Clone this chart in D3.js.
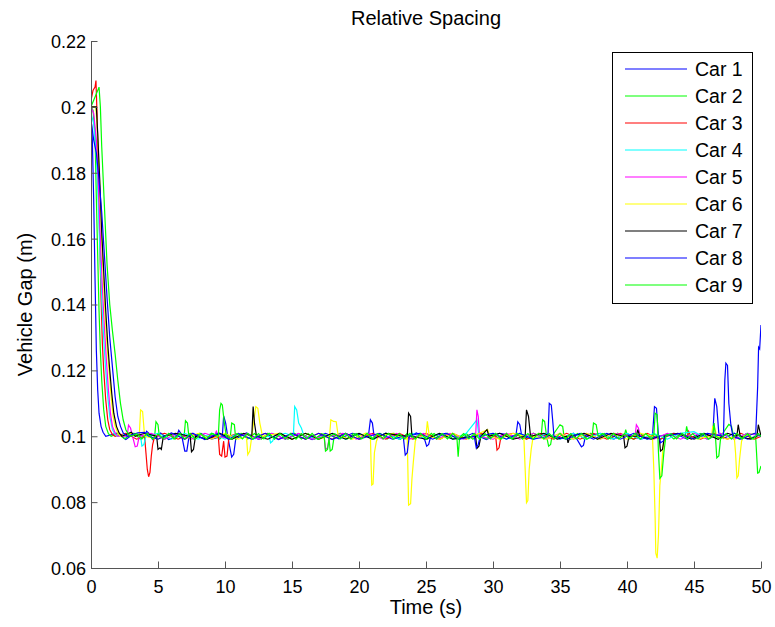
<!DOCTYPE html>
<html>
<head>
<meta charset="utf-8">
<script src="https://cdn.jsdelivr.net/npm/d3@7/dist/d3.min.js"></script>
<style>
  html, body { margin: 0; padding: 0; background: #fff; }
  svg { display: block; }
  text { font-family: "Liberation Sans", Arial, Helvetica, sans-serif; fill: #000; }
</style>
</head>
<body>
<svg id="chart" width="775" height="627"></svg>
<script>
// ---------- data ----------
const carNames = ["Car 1","Car 2","Car 3","Car 4","Car 5","Car 6","Car 7","Car 8","Car 9"];
const xTicks = [0,5,10,15,20,25,30,35,40,45,50];
const yTicks = [0.06,0.08,0.1,0.12,0.14,0.16,0.18,0.2,0.22];
const yTickLabels = ["0.06","0.08","0.1","0.12","0.14","0.16","0.18","0.2","0.22"];

const car1 = [[0,0.197],[0.1,0.19],[0.2,0.172],[0.3,0.148],[0.4,0.126],[0.5,0.114],[0.6,0.107],[0.75,0.103],[0.9,0.1012],[1.1,0.1],
[2.0,0.101],[2.6,0.099],[3.2,0.1008],[4.0,0.1],[4.15,0.1015],[4.35,0.1008],[4.6,0.099],[5.2,0.101],[5.8,0.099],[6.4,0.1],[6.55,0.1018],[6.75,0.1006],[7.0,0.0955],[7.15,0.0955],[7.3,0.0995],[8.2,0.1009],[9.0,0.0991],[9.8,0.1],[9.9,0.1062],[10.05,0.104],[10.2,0.1],[10.5,0.0937],[10.65,0.0945],[10.8,0.0992],[11.6,0.101],[12.5,0.0991],[13.5,0.1009],[14.5,0.0991],[15.5,0.1008],[16.5,0.099],[17.5,0.1009],[18.5,0.0992],[19.5,0.1009],[20.7,0.1],[20.85,0.105],[21.0,0.104],[21.15,0.0992],[22,0.1009],[23,0.0991],[24.3,0.101],[24.9,0.099],[25.05,0.097],[25.2,0.0975],[25.35,0.1],[26.5,0.1009],[27.5,0.0991],[28.5,0.1009],[29.5,0.099],[30.5,0.1009],[31.7,0.1],[31.85,0.1044],[32.0,0.1035],[32.15,0.1],[33,0.0991],[34,0.1008],[35,0.0991],[36,0.1009],[36.6,0.0968],[36.75,0.0972],[36.9,0.1],[38,0.1009],[39,0.0991],[40,0.1008],[41,0.0991],[41.9,0.1],[42.05,0.109],[42.2,0.1085],[42.35,0.1],[43.5,0.1009],[44.5,0.0991],[45.5,0.1008],[46.4,0.1],[46.55,0.1115],[46.7,0.109],[46.85,0.101],[47.2,0.0993],[48.0,0.1009],[49.0,0.0991],[49.6,0.1],[49.75,0.115],[49.82,0.127],[49.9,0.1265],[50,0.1338]];

const car2 = [[0,0.2],[0.15,0.199],[0.3,0.192],[0.4,0.172],[0.5,0.155],[0.6,0.138],[0.7,0.126],[0.8,0.117],[0.95,0.108],[1.1,0.103],[1.3,0.1008],[1.5,0.1],
[2.0,0.1008],[2.5,0.0992],[3.2,0.1009],[3.7,0.0991],[4.3,0.1008],[4.75,0.1],[4.85,0.1044],[5.0,0.1035],[5.1,0.1],[5.5,0.0991],[5.9,0.1008],[6.3,0.0992],[6.7,0.1009],[6.95,0.1],[7.05,0.1047],[7.2,0.104],[7.3,0.1],[7.7,0.0991],[8.1,0.1009],[8.6,0.0992],[9.1,0.1008],[9.6,0.0991],[10.0,0.1007],[10.4,0.1],[10.5,0.104],[10.7,0.1035],[10.8,0.0991],[11.2,0.1009],[11.7,0.0992],[12.2,0.1008],[12.7,0.0991],[13.2,0.1009],[13.7,0.0992],[14.2,0.1008],[14.7,0.0991],[15.2,0.1009],[15.7,0.0992],[16.2,0.1008],[16.7,0.0991],[17.2,0.1008],[17.75,0.1],[17.85,0.0955],[18.0,0.096],[18.15,0.1],[18.6,0.1009],[19.1,0.0991],[19.6,0.1008],[20.1,0.0992],[20.6,0.1009],[21.1,0.0991],[21.6,0.1008],[22.1,0.0992],[22.6,0.1009],[23.1,0.0991],[23.6,0.1008],[24.1,0.0992],[24.6,0.1009],[25.1,0.0991],[25.6,0.1008],[26.1,0.0992],[26.6,0.1009],[27.0,0.0992],[27.3,0.1],[27.4,0.0938],[27.5,0.0993],[28.0,0.1008],[28.5,0.0991],[29.0,0.1009],[29.5,0.0992],[30.0,0.1008],[30.5,0.0991],[31.0,0.1009],[31.5,0.0992],[32.0,0.1008],[32.5,0.0991],[33.0,0.1009],[33.6,0.1],[33.7,0.105],[33.85,0.1045],[34.0,0.1],[34.15,0.097],[34.3,0.0975],[34.4,0.1],[35.0,0.1035],[35.2,0.103],[35.3,0.1],[35.8,0.0991],[36.3,0.1008],[36.8,0.0992],[37.3,0.1009],[37.8,0.0991],[38.3,0.1008],[38.8,0.0992],[39.3,0.1009],[39.8,0.1],[39.9,0.102],[40.05,0.1],[40.5,0.0991],[41.0,0.1008],[41.5,0.0992],[42.0,0.1009],[42.5,0.0991],[43.0,0.1008],[43.5,0.0992],[44.0,0.1008],[44.35,0.1],[44.45,0.103],[44.6,0.1],[45.0,0.0991],[45.5,0.1008],[46.0,0.0992],[46.6,0.1],[46.7,0.0934],[46.85,0.094],[47.0,0.1],[47.6,0.1036],[47.8,0.103],[47.95,0.1],[48.4,0.0991],[48.9,0.1008],[49.3,0.0992],[49.6,0.1],[49.75,0.0888],[49.85,0.089],[50,0.091]];

const car3 = [[0,0.202],[0.15,0.205],[0.3,0.206],[0.37,0.208],[0.45,0.198],[0.55,0.18],[0.65,0.16],[0.75,0.142],[0.85,0.128],[0.95,0.12],[1.1,0.111],[1.25,0.105],[1.4,0.102],[1.6,0.1005],[1.8,0.1],
[2.6,0.1009],[3.4,0.0991],[4.0,0.1],[4.1,0.095],[4.2,0.09],[4.3,0.0877],[4.4,0.089],[4.5,0.094],[4.6,0.0975],[4.75,0.1],[5.5,0.1009],[6.5,0.0991],[7.5,0.1009],[8.5,0.0991],[9.5,0.1],[9.6,0.0945],[9.75,0.094],[9.9,0.0985],[10.0,0.0937],[10.15,0.094],[10.3,0.1],[11,0.1009],[12,0.0991],[13,0.1009],[14,0.0991],[15,0.1009],[16,0.0991],[17,0.1009],[18,0.0991],[19,0.1009],[20,0.0991],[21,0.1009],[22,0.0991],[23,0.1009],[24,0.0991],[25,0.1009],[26,0.0991],[27,0.1009],[28,0.0991],[29,0.1009],[30.2,0.1],[30.3,0.0958],[30.45,0.0965],[30.6,0.1],[31.5,0.1009],[32.5,0.0991],[33.5,0.1009],[34.5,0.0991],[35.5,0.1009],[36.5,0.0991],[37.5,0.1009],[38.5,0.0991],[39.5,0.1009],[40.5,0.0991],[41.5,0.1009],[42.5,0.0991],[43.5,0.1009],[44.5,0.1],[44.6,0.1015],[44.75,0.1],[45.5,0.0991],[46.5,0.1009],[47.5,0.0991],[48.5,0.1009],[49.5,0.0991],[50,0.1]];

const car4 = [[0,0.198],[0.2,0.195],[0.4,0.185],[0.55,0.17],[0.7,0.152],[0.85,0.137],[1.0,0.126],[1.1,0.12],[1.25,0.112],[1.4,0.106],[1.6,0.102],[1.8,0.1005],[2.0,0.1],
[3.0,0.1009],[3.7,0.1],[3.8,0.097],[3.95,0.0975],[4.1,0.1],[5,0.1009],[6,0.0991],[7,0.1009],[8,0.0991],[9,0.1009],[10,0.0991],[11,0.1009],[12,0.0991],[13.3,0.1],[13.4,0.098],[13.55,0.0985],[13.7,0.1],[14.5,0.1009],[15.1,0.1],[15.2,0.109],[15.35,0.108],[15.5,0.104],[15.7,0.1025],[15.9,0.1],[17,0.0991],[18,0.1009],[19,0.0991],[20,0.1009],[21,0.0991],[22,0.1009],[23,0.0991],[24,0.1009],[25,0.0991],[26,0.1009],[27,0.0991],[28,0.1009],[28.8,0.105],[28.95,0.1],[30,0.1009],[31,0.0991],[32,0.1009],[33,0.0991],[34,0.1009],[35,0.0991],[36,0.1009],[37,0.0991],[38,0.1009],[39,0.0991],[40,0.1009],[41,0.0991],[42,0.1009],[43,0.0991],[44,0.1009],[45,0.1014],[46,0.0991],[47,0.1009],[48,0.0991],[49,0.1009],[50,0.1]];

const car5 = [[0,0.2],[0.2,0.198],[0.4,0.19],[0.55,0.176],[0.7,0.16],[0.85,0.145],[1.0,0.133],[1.15,0.123],[1.3,0.114],[1.45,0.107],[1.6,0.103],[1.8,0.101],[2.0,0.1],
[2.7,0.1],[2.8,0.1034],[2.95,0.1025],[3.1,0.1],[3.3,0.0968],[3.45,0.097],[3.6,0.1],[4.5,0.1009],[5.5,0.0991],[6.5,0.1009],[7.5,0.0991],[8.5,0.1009],[9.2,0.1],[9.35,0.1015],[9.5,0.1],[10.5,0.0991],[11.5,0.1009],[12.5,0.0991],[13.5,0.1009],[14.5,0.0991],[15.5,0.1009],[16.5,0.0991],[17.4,0.1],[17.5,0.096],[17.65,0.0965],[17.8,0.1],[18.8,0.1009],[19.8,0.0991],[20.8,0.1009],[21.8,0.0991],[22.8,0.1009],[23.8,0.0991],[24.8,0.1009],[25.8,0.0991],[26.8,0.1009],[27.8,0.0991],[28.7,0.1],[28.8,0.108],[28.9,0.106],[29.0,0.1],[30,0.0991],[31,0.1009],[32,0.0991],[33,0.1009],[34,0.0991],[35,0.1009],[36,0.0991],[37,0.1009],[38,0.0991],[39,0.1009],[40.6,0.1],[40.7,0.1035],[40.85,0.1025],[41,0.1],[42,0.0991],[43,0.1009],[44,0.0991],[45,0.1009],[46,0.0991],[47,0.1009],[48,0.0991],[49,0.1009],[50,0.1]];

const car6 = [[0,0.2],[0.2,0.2],[0.35,0.2],[0.45,0.195],[0.6,0.182],[0.75,0.165],[0.9,0.15],[1.05,0.137],[1.2,0.127],[1.35,0.12],[1.5,0.112],[1.65,0.106],[1.8,0.103],[2.0,0.101],[2.2,0.1],
[3.0,0.1009],[3.6,0.1],[3.7,0.108],[3.85,0.1075],[4.0,0.1],[5,0.0991],[6,0.1009],[7,0.0991],[8,0.1009],[9,0.0991],[10,0.1009],[11,0.0991],[11.6,0.1],[11.7,0.0944],[11.85,0.0955],[12.0,0.1],[12.3,0.109],[12.45,0.1085],[12.6,0.104],[12.8,0.1],[14,0.1009],[15,0.0991],[16,0.1009],[17,0.0991],[17.8,0.1],[17.9,0.105],[18.1,0.1045],[18.3,0.1044],[18.45,0.1],[19.5,0.0991],[20.5,0.1009],[20.85,0.1],[20.9,0.092],[20.95,0.0852],[21.05,0.0855],[21.15,0.095],[21.3,0.0985],[21.45,0.1],[22.5,0.1009],[23.5,0.0991],[23.6,0.1],[23.7,0.0791],[23.85,0.0795],[23.95,0.087],[24.05,0.092],[24.2,0.0985],[24.35,0.1],[25.0,0.1],[25.1,0.1045],[25.25,0.1],[26,0.0991],[27,0.1009],[28,0.0991],[29,0.1009],[29.6,0.102],[29.75,0.1],[30.5,0.0991],[31.5,0.1009],[32.3,0.1],[32.4,0.09],[32.5,0.0798],[32.6,0.0805],[32.7,0.09],[32.85,0.096],[33.0,0.1],[34,0.0991],[35,0.1009],[36,0.0991],[37,0.1009],[38,0.0991],[39,0.1009],[40,0.0991],[41,0.1009],[41.9,0.1],[42.0,0.09],[42.1,0.075],[42.15,0.0645],[42.25,0.063],[42.35,0.07],[42.45,0.085],[42.55,0.0895],[42.7,0.097],[42.85,0.1],[44,0.1009],[45,0.0991],[46.3,0.1],[46.4,0.103],[46.55,0.1025],[46.7,0.1],[47.5,0.0991],[48.0,0.1],[48.1,0.095],[48.2,0.0873],[48.3,0.088],[48.4,0.093],[48.55,0.0985],[48.7,0.1],[49.5,0.1009],[50,0.1]];

const car7 = [[0,0.2],[0.3,0.2],[0.4,0.2],[0.5,0.192],[0.65,0.178],[0.8,0.162],[0.95,0.15],[1.1,0.138],[1.25,0.128],[1.4,0.12],[1.55,0.113],[1.7,0.107],[1.9,0.103],[2.1,0.101],[2.3,0.1],
[3.0,0.1012],[3.3,0.1],[4.0,0.1009],[4.9,0.1],[5.0,0.096],[5.15,0.0965],[5.25,0.096],[5.4,0.1],[6.3,0.1009],[7.4,0.1],[7.5,0.0953],[7.65,0.096],[7.8,0.1],[8.7,0.0991],[9.6,0.1009],[10.5,0.0991],[11.4,0.1009],[12.0,0.1],[12.1,0.109],[12.2,0.104],[12.35,0.1],[13.2,0.0991],[14.1,0.1009],[15,0.0991],[16,0.1009],[17,0.0991],[18,0.1009],[19,0.0991],[20,0.1009],[21,0.0991],[22,0.1009],[23.6,0.1],[23.7,0.107],[23.85,0.106],[23.95,0.1],[25,0.0991],[26,0.1009],[27,0.0991],[28.7,0.1],[28.8,0.0963],[28.95,0.097],[29.1,0.1],[29.55,0.102],[29.7,0.1],[30.5,0.1009],[31.5,0.0991],[32.4,0.1],[32.5,0.108],[32.65,0.106],[32.8,0.1],[33.8,0.1009],[34.8,0.0991],[35.5,0.1],[35.6,0.098],[35.75,0.1],[36.8,0.1009],[37.8,0.0991],[38.8,0.1009],[39.75,0.1],[39.85,0.0965],[40.0,0.097],[40.15,0.1],[40.7,0.1],[40.8,0.102],[40.95,0.1],[41.8,0.0991],[42.4,0.1],[42.5,0.0955],[42.65,0.096],[42.8,0.1],[43.8,0.1009],[44.8,0.0991],[45.8,0.1009],[46.8,0.0991],[47.5,0.1009],[48.2,0.1],[48.3,0.1035],[48.45,0.1],[49.2,0.0991],[49.7,0.1],[49.8,0.1035],[50,0.1]];

const car8 = [[0,0.196],[0.2,0.19],[0.4,0.186],[0.6,0.178],[0.8,0.168],[1.0,0.155],[1.2,0.142],[1.4,0.13],[1.6,0.121],[1.8,0.112],[2.0,0.106],[2.2,0.103],[2.4,0.101],[2.7,0.1],
[3.5,0.101],[4.0,0.1012],[4.3,0.1],[5.0,0.0991],[6.0,0.101],[7.0,0.0991],[7.6,0.1009],[8.5,0.099],[9.5,0.1009],[10.3,0.0991],[11.0,0.1008],[12,0.0991],[13,0.1009],[14,0.099],[15,0.1009],[16,0.0991],[17,0.1009],[18,0.099],[19,0.1009],[20,0.0991],[21.5,0.1009],[22.5,0.0991],[23.3,0.1],[23.45,0.0943],[23.6,0.095],[23.75,0.1],[24.5,0.1009],[25.5,0.0991],[26.5,0.1009],[27.5,0.0991],[28.6,0.1],[28.75,0.0965],[28.9,0.0975],[29.05,0.1],[30,0.1009],[31,0.0991],[32,0.1009],[33,0.0991],[34.1,0.1],[34.2,0.11],[34.35,0.1095],[34.45,0.105],[34.55,0.1],[35.5,0.0991],[36.5,0.1009],[37.5,0.0991],[38.5,0.1009],[39.5,0.0991],[40.5,0.1009],[41.5,0.0991],[42.4,0.1],[42.5,0.098],[42.7,0.0985],[42.85,0.1],[44,0.1009],[45,0.0991],[46,0.1009],[47.2,0.1],[47.3,0.117],[47.38,0.1222],[47.5,0.1215],[47.6,0.11],[47.75,0.1035],[47.9,0.1],[48.5,0.0991],[49.5,0.1009],[50,0.1]];

const car9 = [[0,0.2],[0.2,0.202],[0.4,0.204],[0.6,0.206],[0.7,0.2],[0.8,0.188],[1.0,0.17],[1.2,0.152],[1.4,0.14],[1.6,0.132],[1.8,0.125],[2.0,0.117],[2.2,0.11],[2.4,0.105],[2.6,0.102],[2.8,0.1005],[3.0,0.1],
[3.4,0.1008],[3.8,0.0992],[4.2,0.1009],[4.6,0.0991],[5.0,0.1007],[5.4,0.0993],[5.8,0.1009],[6.2,0.0991],[6.6,0.1008],[7.0,0.0992],[7.4,0.1009],[7.8,0.0991],[8.2,0.1008],[8.6,0.0992],[9.0,0.1009],[9.5,0.1],[9.6,0.108],[9.7,0.11],[9.8,0.1095],[9.95,0.104],[10.1,0.1],[10.5,0.0991],[10.9,0.1008],[11.3,0.0992],[11.7,0.1009],[12.1,0.0991],[12.5,0.1008],[12.9,0.0992],[13.3,0.1009],[13.7,0.0991],[14.1,0.1008],[14.5,0.0992],[14.9,0.1009],[15.3,0.0991],[15.7,0.1008],[16.1,0.0992],[16.5,0.1009],[16.9,0.0991],[17.4,0.1],[17.5,0.0955],[17.65,0.096],[17.8,0.1],[18.2,0.1008],[18.6,0.0992],[19.0,0.1009],[19.4,0.0991],[19.8,0.1008],[20.2,0.0992],[20.6,0.1009],[21.0,0.0991],[21.4,0.1008],[21.8,0.0992],[22.2,0.1009],[22.6,0.0991],[23.0,0.1008],[23.4,0.0992],[23.8,0.1009],[24.2,0.0991],[24.6,0.1008],[25.0,0.0992],[25.4,0.1009],[25.8,0.0991],[26.2,0.1008],[26.6,0.0992],[27.0,0.1009],[27.4,0.0991],[27.8,0.1008],[28.2,0.0992],[28.6,0.1009],[29.0,0.0991],[29.4,0.1008],[29.8,0.0992],[30.2,0.1009],[30.6,0.0991],[31.0,0.1008],[31.4,0.0992],[31.8,0.1009],[32.2,0.0991],[32.6,0.1008],[33.0,0.0992],[33.4,0.1009],[33.8,0.0991],[34.2,0.1008],[34.6,0.0992],[35.0,0.1009],[35.4,0.0991],[35.8,0.1008],[36.2,0.0992],[36.6,0.1009],[37.0,0.0991],[37.4,0.1],[37.5,0.104],[37.7,0.1035],[37.85,0.1],[38.2,0.1008],[38.6,0.0992],[39.0,0.1009],[39.4,0.0991],[39.8,0.1008],[40.2,0.0992],[40.6,0.1009],[41.0,0.0991],[41.4,0.1008],[41.8,0.0992],[42.0,0.1],[42.1,0.107],[42.25,0.1065],[42.35,0.095],[42.45,0.0872],[42.6,0.088],[42.75,0.095],[42.9,0.1],[43.3,0.1008],[43.7,0.0992],[44.1,0.1009],[44.5,0.0991],[44.9,0.1008],[45.3,0.0992],[45.7,0.1009],[46.1,0.0991],[46.4,0.1],[46.5,0.104],[46.6,0.1],[47.0,0.0992],[47.4,0.1008],[47.8,0.0991],[48.2,0.1009],[48.6,0.0992],[49.0,0.1008],[49.4,0.0991],[49.8,0.1008],[50,0.1]];

const seriesData = [car1, car2, car3, car4, car5, car6, car7, car8, car9];

// ---------- styling / layout ----------
const colors = ["#0000ff","#00ff00","#ff0000","#00ffff","#ff00ff","#ffff00","#000000","#0000ff","#00ff00"];
const W = 775, H = 627;
const margin = { left: 91, right: 14, top: 41, bottom: 59 };
const axisColor = "#555";
const svg = d3.select("#chart");

const x = d3.scaleLinear().domain([0, 50]).range([margin.left, W - margin.right]);
const y = d3.scaleLinear().domain([0.06, 0.22]).range([H - margin.bottom, margin.top]);

svg.append("defs").append("clipPath").attr("id", "clip")
  .append("rect")
  .attr("x", x(0)).attr("y", y(0.22) - 2)
  .attr("width", x(50) - x(0)).attr("height", y(0.06) - y(0.22) + 2);

// lines
const line = d3.line().x(d => x(d[0])).y(d => y(d[1]));
const gLines = svg.append("g").attr("clip-path", "url(#clip)");
seriesData.forEach((s, i) => {
  gLines.append("path")
    .attr("d", line(s))
    .attr("fill", "none")
    .attr("stroke", colors[i])
    .attr("stroke-width", 1.2)
    .attr("stroke-linejoin", "miter");
});

// axes (ticks inside, MATLAB style)
const tickLen = 6.5;
const xAxis = d3.axisBottom(x).tickValues(xTicks).tickSizeInner(-tickLen).tickSizeOuter(0);
const gx = svg.append("g").attr("transform", `translate(0,${y(0.06)})`).call(xAxis);
gx.select(".domain").attr("stroke", axisColor);
gx.selectAll(".tick line").attr("stroke", axisColor);
gx.selectAll(".tick text").attr("font-size", 18).attr("font-family", '"Liberation Sans", Arial, sans-serif').attr("fill", "#000")
  .attr("y", 25).attr("dy", 0);

const yAxis = d3.axisLeft(y).tickValues(yTicks).tickFormat((d, i) => yTickLabels[i]).tickSizeInner(-tickLen).tickSizeOuter(0);
const gy = svg.append("g").attr("transform", `translate(${x(0)},0)`).call(yAxis);
gy.select(".domain").attr("stroke", axisColor);
gy.selectAll(".tick line").attr("stroke", axisColor);
gy.selectAll(".tick text").attr("font-size", 18).attr("font-family", '"Liberation Sans", Arial, sans-serif').attr("fill", "#000")
  .attr("x", -5).attr("dy", "0.36em");

// title & labels
svg.append("text").attr("x", (x(0) + x(50)) / 2).attr("y", 25).attr("text-anchor", "middle")
  .attr("font-size", 20).text("Relative Spacing");
svg.append("text").attr("x", (x(0) + x(50)) / 2).attr("y", 614).attr("text-anchor", "middle")
  .attr("font-size", 20).text("Time (s)");
svg.append("text").attr("transform", `translate(32,${(y(0.06) + y(0.22)) / 2}) rotate(-90)`)
  .attr("text-anchor", "middle").attr("font-size", 20).text("Vehicle Gap (m)");

// legend
const lg = svg.append("g");
const lgX = 612, lgY = 52, lgW = 140, lgH = 251, rowH = 27.0, firstRow = 69;
lg.append("rect").attr("x", lgX + 0.5).attr("y", lgY + 0.5).attr("width", lgW).attr("height", lgH)
  .attr("fill", "#fff").attr("stroke", "#000").attr("stroke-width", 1);
carNames.forEach((name, i) => {
  const cy = firstRow + i * rowH;
  lg.append("line").attr("x1", 625).attr("x2", 687).attr("y1", cy).attr("y2", cy)
    .attr("stroke", colors[i]).attr("stroke-width", 1.2);
  lg.append("text").attr("x", 695).attr("y", cy + 7).attr("font-size", 19.5).text(name);
});
</script>
</body>
</html>
